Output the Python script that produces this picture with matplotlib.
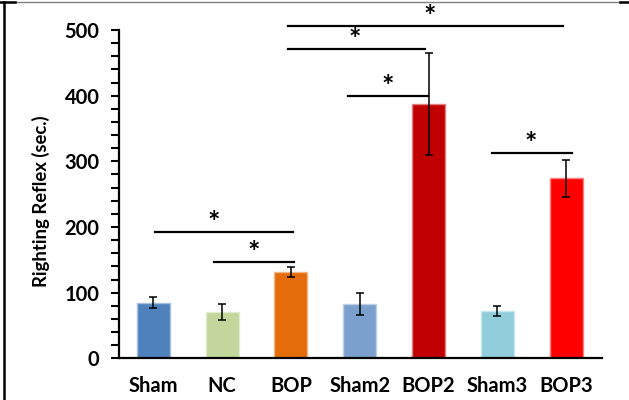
import matplotlib.pyplot as plt
import numpy as np

# values
groups = ["Sham", "NC", "BOP", "Sham2", "BOP2", "Sham3", "BOP3"]
means = [85, 71, 132, 83, 387, 72, 274]
errors = [8, 12, 7.5, 17, 78, 8, 28]
colors = ["#4F81BD", "#C3D69B", "#E46C0A", "#7BA0CD", "#C00000", "#92CDDC", "#FF0000"]
edges = ["#A7C0DE", "#E1EBCD", "#F2B585", "#BDD0E6", "#E08080", "#C8E6EE", "#FF8080"]

# significance brackets: (x start, x end, height, star x)
brackets = [
    (0.02, 2.03, 193, 0.88),
    (0.88, 2.05, 147, 1.46),
    (1.96, 5.96, 506, 4.02),
    (1.96, 3.95, 471, 2.93),
    (2.83, 3.99, 400, 3.40),
    (4.92, 6.09, 313, 5.48),
]

plt.rcParams["font.family"] = ["Lato", "DejaVu Sans"]
plt.rcParams["font.weight"] = "bold"

fig = plt.figure(figsize=(6.29, 4.0), dpi=100)
ax = fig.add_axes([0.189, 0.104, 0.768, 0.821])

x = np.arange(len(groups))
ax.bar(x, means, width=0.48, color=colors, edgecolor=edges, linewidth=1, zorder=2)
ax.errorbar(x, means, yerr=errors, fmt="none", ecolor="black",
            elinewidth=1.1, capsize=3, capthick=1.1, zorder=3)

# -------------------------------------------------
# significance lines and stars
# -------------------------------------------------
for x0, x1, h, xs in brackets:
    ax.plot([x0, x1], [h, h], color="black", lw=1.6, clip_on=False, zorder=4)
    ax.text(xs, h + 1, "*", ha="center", va="baseline",
            fontsize=21, fontweight="bold", clip_on=False)

ax.set_xlim(-0.5, 6.52)
ax.set_ylim(0, 500)
ax.set_yticks(np.arange(0, 501, 100))
ax.set_yticks(np.arange(0, 501, 20), minor=True)
ax.set_xticks(x)
ax.set_xticklabels(groups)
ax.tick_params(axis="x", length=0, pad=13, labelsize=14.5)
ax.tick_params(axis="y", which="both", length=6, width=1.5, direction="out",
               labelsize=14.5, pad=8)
ax.set_ylabel("Righting Reflex (sec.)", fontsize=13.3, fontweight="bold")
ax.yaxis.set_label_coords(-0.143, 0.48)

for s in ["top", "right"]:
    ax.spines[s].set_visible(False)
ax.spines["left"].set_linewidth(1.6)
ax.spines["bottom"].set_linewidth(1.6)

# cropped frame around the figure
fig.add_artist(plt.Line2D([0.024, 0.986], [0.995, 0.995], color="#808080", lw=1))
fig.add_artist(plt.Line2D([0.0, 0.024], [0.995, 0.995], color="black", lw=1.8))
fig.add_artist(plt.Line2D([0.986, 1.0], [0.995, 0.995], color="black", lw=1.8))
fig.add_artist(plt.Line2D([0.006, 0.006], [0.0, 0.995], color="black", lw=1.8))

fig.savefig("out.png", dpi=100)
